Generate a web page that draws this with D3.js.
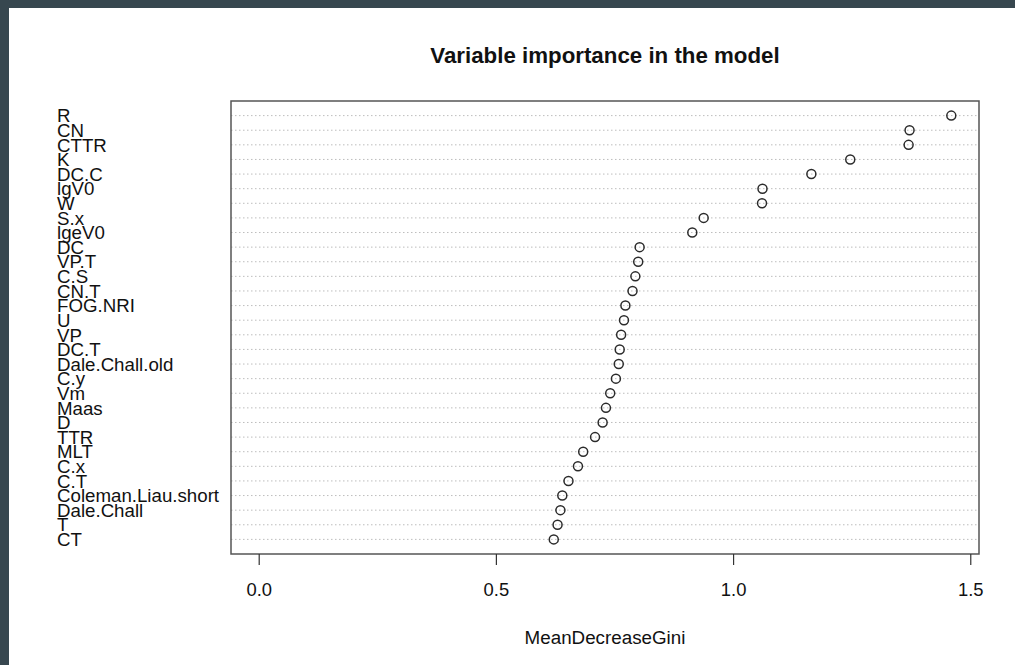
<!DOCTYPE html>
<html>
<head>
<meta charset="utf-8">
<script src="https://cdn.jsdelivr.net/npm/d3@7"></script>
<style>
  html, body { margin: 0; padding: 0; background: #fff; overflow: hidden; }
  svg { display: block; font-family: "Liberation Sans", Arial, sans-serif; }
</style>
</head>
<body>
<script>
// variables, top to bottom as drawn
const variables = ["R", "CN", "CTTR", "K", "DC.C", "lgV0", "W", "S.x", "lgeV0", "DC",
  "VP.T", "C.S", "CN.T", "FOG.NRI", "U", "VP", "DC.T", "Dale.Chall.old", "C.y", "Vm",
  "Maas", "D", "TTR", "MLT", "C.x", "C.T", "Coleman.Liau.short", "Dale.Chall", "T", "CT"];
const meanDecreaseGini = [1.460, 1.372, 1.370, 1.247, 1.165, 1.062, 1.061, 0.938, 0.914, 0.803,
  0.800, 0.794, 0.788, 0.773, 0.770, 0.764, 0.761, 0.759, 0.753, 0.741,
  0.732, 0.725, 0.709, 0.684, 0.673, 0.653, 0.640, 0.636, 0.630, 0.622];
const xTicks = [0, 0.5, 1.0, 1.5];
const title = "Variable importance in the model";
const xLabel = "MeanDecreaseGini";

const width = 1015, height = 665;
const box = {left: 231, right: 979, top: 101, bottom: 554};

const svg = d3.select("body").append("svg")
  .attr("width", width)
  .attr("height", height);

svg.append("rect").attr("width", width).attr("height", height).attr("fill", "#fff");
// dark frame strips at top and left
svg.append("rect").attr("x", 0).attr("y", 0).attr("width", width).attr("height", 8).attr("fill", "#37474f");
svg.append("rect").attr("x", 0).attr("y", 0).attr("width", 9).attr("height", height).attr("fill", "#37474f");

const xmax = d3.max(meanDecreaseGini);
const pad = 0.04 * xmax;
const x = d3.scaleLinear().domain([-pad, xmax + pad]).range([box.left, box.right]);
const n = variables.length;
const y = d3.scaleLinear().domain([0, n + 1]).range([box.bottom, box.top]);
const rowY = (i) => y(n - i);

const rows = variables.map((v, i) => ({name: v, value: meanDecreaseGini[i], i: i}));

// dotted guide lines
svg.append("g").selectAll("line")
  .data(rows)
  .enter()
  .append("line")
  .attr("x1", box.left)
  .attr("x2", box.right)
  .attr("y1", d => rowY(d.i))
  .attr("y2", d => rowY(d.i))
  .attr("stroke", "#bdbdbd")
  .attr("stroke-width", 1)
  .attr("stroke-dasharray", "1.5,2.5");

// points
svg.append("g").selectAll("circle")
  .data(rows)
  .enter()
  .append("circle")
  .attr("cx", d => x(d.value))
  .attr("cy", d => rowY(d.i))
  .attr("r", 4.5)
  .attr("fill", "none")
  .attr("stroke", "#2b2b2b")
  .attr("stroke-width", 1.5);

// box
svg.append("rect")
  .attr("x", box.left)
  .attr("y", box.top)
  .attr("width", box.right - box.left)
  .attr("height", box.bottom - box.top)
  .attr("fill", "none")
  .attr("stroke", "#555")
  .attr("stroke-width", 1.5);

// variable labels
svg.append("g").selectAll("text")
  .data(rows)
  .enter()
  .append("text")
  .attr("x", 57)
  .attr("y", d => rowY(d.i) + 6.7)
  .attr("font-size", 18.7)
  .attr("fill", "#111")
  .text(d => d.name);

// x axis
const xAxis = svg.append("g")
  .attr("transform", `translate(0,${box.bottom})`)
  .call(d3.axisBottom(x).tickValues(xTicks).tickFormat(d3.format(".1f")).tickSize(11).tickPadding(18));
xAxis.select(".domain").remove();
xAxis.selectAll(".tick line").attr("stroke", "#333").attr("stroke-width", 1.2);
xAxis.selectAll(".tick text")
  .attr("font-size", 18.4)
  .attr("font-family", "Liberation Sans, Arial, sans-serif")
  .attr("fill", "#111");

// titles
svg.append("text")
  .attr("x", (box.left + box.right) / 2)
  .attr("y", 62.7)
  .attr("text-anchor", "middle")
  .attr("font-size", 22.3)
  .attr("font-weight", "bold")
  .attr("fill", "#111")
  .text(title);

svg.append("text")
  .attr("x", (box.left + box.right) / 2)
  .attr("y", 644)
  .attr("text-anchor", "middle")
  .attr("font-size", 18.8)
  .attr("fill", "#111")
  .text(xLabel);
</script>
</body>
</html>
